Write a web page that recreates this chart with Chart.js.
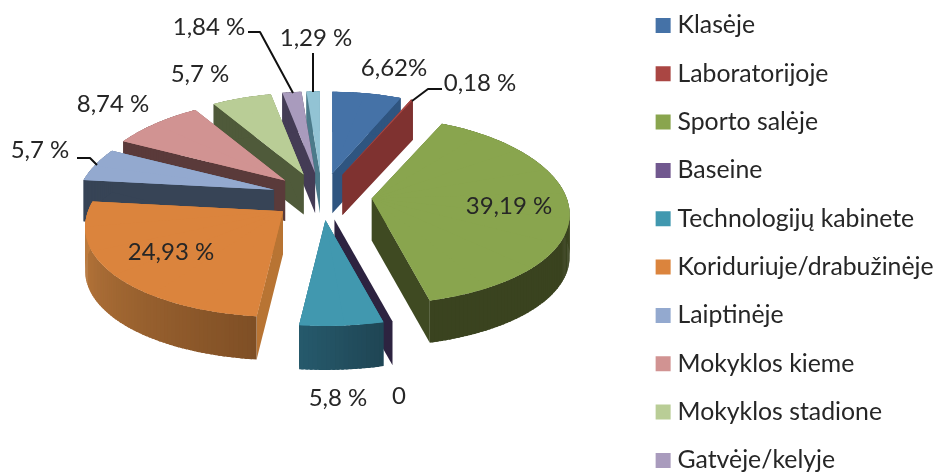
<!DOCTYPE html>
<html><head><meta charset="utf-8">
<script src="https://cdn.jsdelivr.net/npm/chart.js@4/dist/chart.umd.js"></script>
<style>html,body{margin:0;padding:0;background:#fff;overflow:hidden;width:937px;height:473px}canvas{display:block}</style>
</head><body><canvas id="c" width="937" height="520"></canvas>
<script>
// the 11th category name falls outside the picture
const categories = ['Klasėje','Laboratorijoje','Sporto salėje','Baseine','Technologijų kabinete','Koriduriuje/drabužinėje','Laiptinėje','Mokyklos kieme','Mokyklos stadione','Gatvėje/kelyje',''];
const values = [6.62,0.18,39.19,0,5.8,24.93,5.7,8.74,5.7,1.84,1.29];
const valueLabels = ['6,62%','0,18 %','39,19 %','0','5,8 %','24,93 %','5,7 %','8,74 %','5,7 %','1,84 %','1,29 %'];
const topColors = ['#4572A7','#AA4643','#89A54E','#71588F','#4198AF','#DB843D','#93A9CF','#D19392','#B9CD96','#A99BBD','#92C3D4'];
const wallColors = ['#2F5580','#7F3230','#3F4A22','#2D2340','#224F60','#B87433','#374456','#5A3A3A','#4F5A3A','#443C55','#4B7A8A'];
// rim wall colours from slice start to slice end
const rimStart = ['#2F5580','#7F3230','#3A431F','#2D2340','#1F4554','#7F4F25','#374456','#5A3A3A','#4F5A3A','#443C55','#4B7A8A'];
const rimEnd   = ['#2F5580','#7F3230','#3A431F','#2D2340','#265A6C','#C58040','#374456','#5A3A3A','#4F5A3A','#443C55','#4B7A8A'];
// label anchor (centre) per slice and leader polyline where the picture has one
const labelPos = [[394,68],[480,83],[509,206],[399,396],[338,398],[171,252],[40,150],[113,104],[200,74],[209,27],[316,38]];
const leaders = [null,[[412,101],[428,89],[442,89]],null,null,null,null,[[77,158],[90,158],[97,165]],null,null,[[248,32],[260,32],[293,93]],[[313,53],[313,92]]];

const FONT = 'Lato, sans-serif';
const view = {cx:322, cy:196.5, explode:50, tilt:0.475, A:195, B:92, perspX:0.169, perspY:0.13, depth:42, piece:0.3, rimStep:0.02};

function rimPoint(apex, th){
  const u = Math.sin(th), v = Math.cos(th);
  return [apex[0] + view.A*u/(1+view.perspX*v), apex[1] - view.B*v/(1+view.perspY*v)];
}
function mixColor(c0,c1,t){
  const h=(c,k)=>parseInt(c.substr(1+2*k,2),16);
  return 'rgb('+[0,1,2].map(k=>Math.round(h(c0,k)+(h(c1,k)-h(c0,k))*t)).join(',')+')';
}
const pie3d = {
  id:'pie3d',
  beforeDatasetsDraw(chart){
    const ctx = chart.ctx, arcs = chart.getDatasetMeta(0).data;
    const items = arcs.map((arc,i)=>{
      const th0 = arc.startAngle + Math.PI/2, th1 = arc.endAngle + Math.PI/2, mid = (th0+th1)/2;
      return {arc,i,mid,th0,th1,
        apex:[view.cx + view.explode*Math.sin(mid), view.cy - view.explode*view.tilt*Math.cos(mid)]};
    }).sort((a,b)=>Math.cos(b.mid)-Math.cos(a.mid));
    const quad = (a,b,D,color) => {
      ctx.fillStyle = color;
      ctx.beginPath();
      ctx.moveTo(a[0],a[1]);ctx.lineTo(b[0],b[1]);ctx.lineTo(b[0],b[1]+D);ctx.lineTo(a[0],a[1]+D);
      ctx.closePath();ctx.fill();
    };
    for(const it of items){
      const {arc,i,mid,apex,th0,th1} = it, R = arc.outerRadius;
      const D = view.depth - 2*Math.cos(mid);
      if(arc.circumference === 0){ quad(apex,rimPoint(apex,mid),D,wallColors[i]); continue; }
      // the slice is drawn as library arcs, each under its own affine map to the tilted view
      const n = Math.max(1,Math.ceil((th1-th0)/view.piece)), step=(th1-th0)/n, pieces=[];
      for(let k=0;k<n;k++){
        const s=th0+k*step, e=s+step, m=(s+e)/2, half=Math.max(step/2,0.15);
        const a0=m-half, a1=m+half, p0=rimPoint(apex,a0), p1=rimPoint(apex,a1);
        const s0=Math.sin(a0), c0=-Math.cos(a0), s1=Math.sin(a1), c1=-Math.cos(a1), det=(s0*c1-s1*c0)*R;
        const dx0=p0[0]-apex[0], dy0=p0[1]-apex[1], dx1=p1[0]-apex[0], dy1=p1[1]-apex[1];
        pieces.push({s,e,
          a:(dx0*c1-dx1*c0)/det, c:(dx1*s0-dx0*s1)/det, b:(dy0*c1-dy1*c0)/det, d:(dy1*s0-dy0*s1)/det});
      }
      const paint = (pc, fill) => {
        ctx.save();
        ctx.setTransform(pc.a,pc.b,pc.c,pc.d,apex[0],apex[1]);
        const sa = Math.max(th0,pc.s-0.012)-Math.PI/2, ea = Math.min(th1,pc.e+0.012)-Math.PI/2;
        const e = new Chart.ArcElement({x:0,y:0,startAngle:sa,endAngle:ea,
          innerRadius:0,outerRadius:R,circumference:ea-sa,
          options:{backgroundColor:fill,borderWidth:0,borderRadius:0,borderAlign:'center',offset:0,spacing:0,circular:true}});
        e.draw(ctx);
        ctx.restore();
      };
      // radial side walls, then the rim wall strip by strip
      const edge = (pc,th) => [apex[0]+R*(pc.a*Math.sin(th)-pc.c*Math.cos(th)), apex[1]+R*(pc.b*Math.sin(th)-pc.d*Math.cos(th))];
      const e0 = edge(pieces[0],th0), e1 = edge(pieces[n-1],th1);
      quad(apex,e0,D,wallColors[i]);
      quad(apex,e1,D,wallColors[i]);
      const strips = Math.max(1,Math.ceil((th1-th0)/view.rimStep));
      for(let k=0;k<strips;k++){
        const t0=th0+(th1-th0)*k/strips, t1=th0+(th1-th0)*Math.min(strips,k+1.6)/strips;
        quad(k===0&&n===1?e0:rimPoint(apex,t0), k===strips-1&&n===1?e1:rimPoint(apex,t1), D, mixColor(rimStart[i],rimEnd[i],(k+0.5)/strips));
      }
      // backing fill hides hairline seams between the arc pieces near the apex
      if(n>1){
        ctx.fillStyle = topColors[i];
        ctx.beginPath();ctx.moveTo(apex[0],apex[1]);
        for(let k=0;k<=strips;k++){ const p=rimPoint(apex,th0+(th1-th0)*k/strips); ctx.lineTo(p[0],p[1]); }
        ctx.closePath();ctx.fill();
      }
      pieces.forEach(pc=>paint(pc,topColors[i]));
    }
    // value labels and leaders
    ctx.save();
    ctx.strokeStyle='#111';ctx.lineWidth=2;ctx.lineJoin='round';
    leaders.forEach(l=>{ if(!l) return; ctx.beginPath(); l.forEach((p,k)=>k?ctx.lineTo(p[0],p[1]):ctx.moveTo(p[0],p[1])); ctx.stroke(); });
    ctx.fillStyle='#262626';ctx.font='24px '+FONT;ctx.textAlign='center';ctx.textBaseline='middle';
    valueLabels.forEach((t,i)=>ctx.fillText(t,labelPos[i][0],labelPos[i][1]));
    ctx.restore();
    return false;
  },
  afterLayout(chart){ chart.legend.left = 637.6; chart.legend.top = -10.5; }
};
new Chart(document.getElementById('c'),{
  type:'pie',
  data:{labels:categories,datasets:[{data:values,backgroundColor:topColors,borderWidth:0}]},
  plugins:[pie3d],
  options:{
    responsive:false,animation:false,
    plugins:{
      tooltip:{enabled:false},
      legend:{position:'right',align:'start',
        labels:{
          padding:23.53,boxWidth:4,boxHeight:4,color:'#262626',
          font:{family:FONT,size:24.8,lineHeight:1},
          generateLabels(chart){
            return Chart.overrides.pie.plugins.legend.labels.generateLabels(chart)
              .filter(it=>it.index<10)
              .map(it=>Object.assign(it,{strokeStyle:it.fillStyle,lineWidth:11}));
          }
        }
      }
    }
  }
});
</script></body></html>
